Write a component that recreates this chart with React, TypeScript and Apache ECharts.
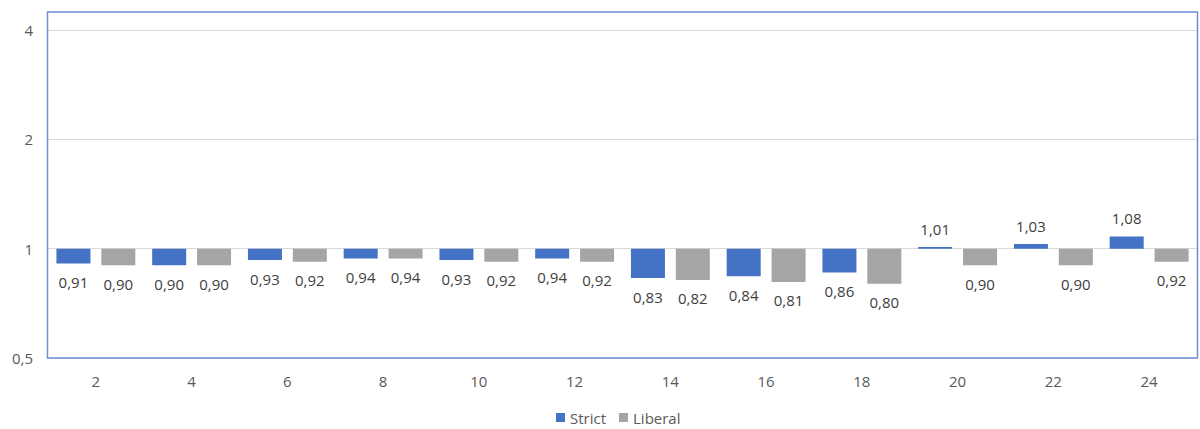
import React, { useEffect, useRef } from "react";
import * as echarts from "echarts";

const categories = ["2", "4", "6", "8", "10", "12", "14", "16", "18", "20", "22", "24"];
const strictValues = [0.91, 0.90, 0.93, 0.94, 0.93, 0.94, 0.83, 0.84, 0.86, 1.01, 1.03, 1.08];
const liberalValues = [0.90, 0.90, 0.92, 0.94, 0.92, 0.92, 0.82, 0.81, 0.80, 0.90, 0.90, 0.92];
const seriesNames = ["Strict", "Liberal"];

const FONT = "'Open Sans', 'Noto Sans', sans-serif";
const fmt = (v: number, d: number) => v.toFixed(d).replace(".", ",");

export default function App() {
  const ref = useRef<HTMLDivElement>(null);
  useEffect(() => {
    if (!ref.current) return;
    const chart = echarts.init(ref.current, undefined, { renderer: "svg" });
    const label = {
      show: true,
      position: "outside" as any,
      distance: 11,
      color: "#404040",
      fontSize: 15,
      fontFamily: FONT,
      formatter: (p: any) => fmt(p.value, 2),
    };
    chart.setOption({
      animation: false,
      textStyle: { fontFamily: FONT },
      grid: { left: 48, right: 3, top: 30, bottom: 71, containLabel: false },
      legend: {
        data: seriesNames,
        top: 405,
        left: 551,
        itemWidth: 9,
        itemHeight: 9,
        itemGap: 13,
        icon: "rect",
        textStyle: { color: "#595959", fontSize: 15, fontFamily: FONT },
      },
      xAxis: {
        type: "category",
        data: categories,
        axisLine: { show: false },
        axisTick: { show: false },
        axisLabel: { color: "#595959", fontSize: 15, margin: 15, fontFamily: FONT },
      },
      yAxis: {
        type: "log",
        logBase: 2,
        min: 0.5,
        max: 4,
        axisLine: { show: false },
        axisTick: { show: false },
        axisLabel: {
          color: "#595959",
          fontSize: 15,
          margin: 15,
          fontFamily: FONT,
          formatter: (v: number) => String(v).replace(".", ","),
        },
        splitLine: { lineStyle: { color: "#D9D9D9", width: 1 } },
      },
      graphic: [
        {
          type: "rect",
          silent: true,
          z: 100,
          shape: { x: 47.5, y: 12, width: 1150, height: 346 },
          style: { fill: "none", stroke: "#6E8FD2", lineWidth: 1.5 },
        },
      ],
      series: [
        {
          name: seriesNames[0],
          type: "bar",
          data: strictValues,
          barWidth: 34,
          barGap: "32%",
          itemStyle: { color: "#4472C4" },
          label,
        },
        {
          name: seriesNames[1],
          type: "bar",
          data: liberalValues,
          barWidth: 34,
          barGap: "32%",
          itemStyle: { color: "#A5A5A5" },
          label,
        },
      ],
    });
    return () => chart.dispose();
  }, []);
  return (
    <div
      ref={ref}
      style={{ position: "fixed", left: 0, top: 0, width: 1200, height: 429, background: "#fff" }}
    />
  );
}
